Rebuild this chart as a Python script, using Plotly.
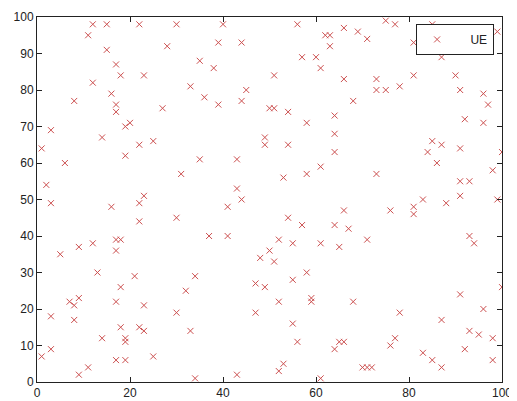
import plotly.graph_objects as go

# UE positions (x, y)
ue_x = [
    12, 15, 22, 30, 11, 15, 28, 35, 17, 18, 23, 12, 33, 16, 8, 17, 17, 27, 19, 20,
    3, 14, 22, 25, 1, 19, 6, 35, 31, 2, 23,
    3, 16, 22, 22, 30, 17, 18, 9, 12, 17, 5, 13, 21, 34, 18, 32, 7, 8, 9,
    17, 23, 3, 8, 30, 18, 22, 23, 33, 14, 19, 19, 3, 1, 25, 17, 19, 11, 9, 34,
    40, 56, 66, 69, 62, 63, 63, 39, 44, 38, 57, 60, 61, 51, 66, 45, 36, 39, 44, 68,
    50, 51, 54, 64, 58, 64, 49, 49, 54, 64, 43, 61, 58, 53, 43, 44,
    41, 54, 57, 66, 64, 67, 37, 41, 52, 55, 61, 65, 50, 48, 51, 58, 55, 47, 49, 52,
    59, 59, 68, 47, 55, 56, 65, 66, 64, 53, 52, 43, 61,
    71, 75, 77, 85, 81, 99, 88, 87, 73, 81, 90, 73, 75, 78, 91, 96, 97, 92, 96, 85,
    87, 84, 91, 100, 86, 98, 73, 91, 93, 91,
    71, 76, 81, 81, 83, 88, 99, 93, 94, 100, 91, 78, 96, 87, 76, 77, 93, 95, 98, 92,
    83, 85, 98, 87, 70, 71, 72,
]
ue_y = [
    98, 98, 98, 98, 95, 91, 92, 88, 87, 84, 84, 82, 81, 79, 77, 76, 74, 75, 70, 71,
    69, 67, 65, 66, 64, 62, 60, 61, 57, 54, 51,
    49, 48, 49, 44, 45, 39, 39, 37, 38, 36, 35, 30, 29, 29, 26, 25, 22, 21, 23,
    22, 21, 18, 17, 19, 15, 15, 14, 14, 12, 12, 11, 9, 7, 7, 6, 6, 4, 2, 1,
    98, 98, 97, 96, 95, 95, 92, 93, 93, 86, 89, 89, 86, 84, 83, 80, 78, 76, 77, 77,
    75, 75, 74, 73, 71, 68, 67, 65, 65, 63, 61, 59, 57, 56, 53, 50,
    48, 45, 43, 47, 43, 42, 40, 40, 39, 38, 38, 37, 36, 34, 33, 30, 28, 27, 26, 22,
    23, 22, 22, 19, 16, 11, 11, 11, 9, 5, 3, 2, 1,
    94, 99, 98, 98, 93, 96, 91, 89, 83, 84, 84, 80, 80, 81, 80, 79, 76, 72, 71, 66,
    65, 63, 64, 63, 60, 58, 57, 55, 55, 51,
    39, 47, 48, 46, 50, 49, 50, 40, 38, 26, 24, 19, 20, 17, 10, 12, 14, 13, 12, 9,
    8, 6, 6, 4, 4, 4, 4,
]

x_ticks = [0, 20, 40, 60, 80, 100]
y_ticks = [0, 10, 20, 30, 40, 50, 60, 70, 80, 90, 100]

fig = go.Figure()
fig.add_trace(go.Scatter(
    x=ue_x, y=ue_y, mode="markers", name="\u00a0\u00a0\u00a0\u00a0UE",
    marker=dict(symbol="x-thin-open", size=6,
                line=dict(color="#cc5050", width=1), color="#cc5050"),
))

axis_common = dict(
    range=[0, 100], showgrid=False, zeroline=False, automargin=False,
    showline=True, linecolor="#222222", linewidth=1,
    ticks="inside", ticklen=5, tickcolor="#222222", mirror="allticks",
    tickfont=dict(family="Liberation Sans, Arial, sans-serif", size=12, color="#222222"),
)

# the page body adds an 8px offset, so the figure is sized/margined to compensate
fig.update_layout(
    width=509, height=393,
    margin=dict(l=29, r=15, t=9, b=19),
    paper_bgcolor="white", plot_bgcolor="white",
    showlegend=True,
    legend=dict(
        x=0.983, y=0.981, xanchor="right", yanchor="top",
        bgcolor="white", bordercolor="#222222", borderwidth=1,
        font=dict(family="Liberation Sans, Arial, sans-serif", size=12, color="#222222"),
        itemwidth=30,
    ),
)
fig.update_xaxes(tickvals=x_ticks, **axis_common)
fig.update_yaxes(tickvals=y_ticks, **axis_common)

fig.write_html("out.html")
